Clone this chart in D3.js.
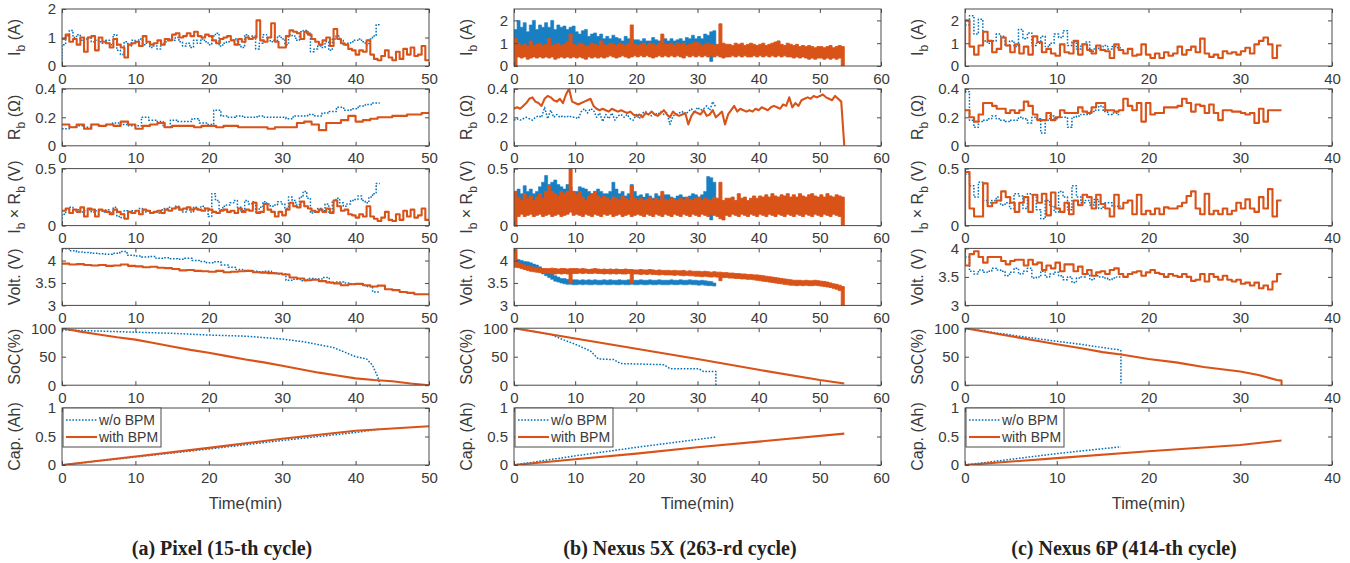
<!DOCTYPE html>
<html><head><meta charset="utf-8">
<script src="https://cdn.jsdelivr.net/npm/d3@7"></script>
<style>body{margin:0;background:#fff}</style>
</head><body>
<script>
// ===================== DATA =====================
const seriesNames = ["w/o BPM", "with BPM"];
const captions = ["(a) Pixel (15-th cycle)", "(b) Nexus 5X (263-rd cycle)", "(c) Nexus 6P (414-th cycle)"];
const xMax = [50, 60, 40];
const xTicks = [[0,10,20,30,40,50],[0,10,20,30,40,50,60],[0,10,20,30,40]];
const yDomains = [
  [[0,2],[0,0.4],[0,0.5],[3,4.27],[0,100],[0,1]],
  [[0,2.5],[0,0.4],[0,0.5],[3,4.27],[0,100],[0,1]],
  [[0,2.5],[0,0.4],[0,0.5],[3,4],[0,100],[0,1]]
];
const yTicks = [
  [[0,1,2],[0,0.2,0.4],[0,0.5],[3,3.5,4],[0,50,100],[0,0.5,1]],
  [[0,1,2],[0,0.2,0.4],[0,0.5],[3,3.5,4],[0,50,100],[0,0.5,1]],
  [[0,1,2],[0,0.2,0.4],[0,0.5],[3,3.5,4],[0,50,100],[0,0.5,1]]
];
const endWith = [50, 54, 34.5];
const endWithout = [43.3, 33, 17];

// ---- Pixel (column a), step values ----
const pixelIbWith = [
 0.95,1.1,0.85,0.95,0.75,1.0,0.5,1.0,1.05,0.55,
 1.0,0.85,0.8,0.65,0.95,0.75,0.65,0.3,0.75,0.8,
 0.85,0.7,1.05,0.85,0.75,0.8,0.9,0.75,0.95,0.9,
 1.1,1.15,1.0,1.05,1.15,1.05,1.2,1.05,1.0,1.1,
 1.05,0.9,0.8,0.95,1.0,1.05,0.9,0.75,0.95,0.85,
 1.0,0.95,1.0,1.6,0.9,0.85,1.0,1.5,0.85,0.65,
 0.65,1.05,1.25,1.2,1.15,0.95,1.2,1.1,0.95,0.85,
 0.75,0.9,1.0,0.7,1.3,0.95,0.8,0.75,0.6,0.55,
 0.4,0.55,0.5,0.9,0.4,0.25,0.2,0.35,0.55,0.3,
 0.2,0.5,0.25,0.6,0.4,0.65,0.35,0.4,0.7,0.2];
const pixelIbWithout = [
 0.75,1.05,1.25,1.0,1.1,0.9,0.95,1.0,0.85,0.9,
 0.85,0.8,0.9,0.75,1.1,0.55,0.4,0.85,0.7,0.9,
 0.85,0.95,0.75,0.8,0.65,0.7,0.6,0.8,0.85,0.95,
 0.9,1.0,0.85,0.7,0.8,0.65,0.9,0.8,0.95,0.85,
 0.75,1.05,1.15,0.7,0.8,0.85,0.9,0.95,0.75,0.65,
 1.1,0.95,1.05,0.6,0.8,1.1,1.0,0.85,0.9,1.05,
 0.95,0.75,1.1,1.05,0.9,1.2,1.25,1.15,0.5,0.6,
 0.7,0.65,0.85,0.55,0.95,1.05,0.9,0.75,0.8,0.85,
 0.9,0.95,0.85,0.75,0.95,1.05,1.45];
const pixelRbWith = [
 0.15,0.13,0.15,0.12,0.15,0.14,0.15,0.14,0.17,0.15,
 0.12,0.14,0.15,0.16,0.13,0.14,0.14,0.14,0.13,0.14,
 0.14,0.13,0.14,0.14,0.13,0.13,0.13,0.13,0.12,0.13,
 0.13,0.13,0.16,0.17,0.15,0.11,0.16,0.16,0.18,0.21,
 0.17,0.18,0.19,0.20,0.20,0.21,0.21,0.22,0.22,0.23];
const pixelRbWithout = [
 0.12,0.13,0.14,0.13,0.15,0.14,0.15,0.16,0.15,0.14,
 0.14,0.20,0.18,0.17,0.13,0.18,0.17,0.17,0.19,0.16,
 0.15,0.25,0.21,0.20,0.21,0.20,0.20,0.21,0.20,0.20,
 0.20,0.19,0.21,0.21,0.22,0.21,0.23,0.24,0.27,0.25,
 0.26,0.28,0.29,0.30];
const pixelIRWith = [
 0.13,0.15,0.11,0.14,0.12,0.16,0.08,0.15,0.14,0.08,
 0.14,0.13,0.12,0.10,0.14,0.12,0.10,0.06,0.12,0.11,
 0.13,0.10,0.14,0.13,0.11,0.12,0.13,0.11,0.14,0.13,
 0.15,0.16,0.14,0.15,0.16,0.14,0.15,0.14,0.13,0.15,
 0.14,0.12,0.11,0.13,0.14,0.12,0.13,0.11,0.15,0.12,
 0.14,0.13,0.20,0.11,0.12,0.19,0.14,0.12,0.08,0.12,
 0.09,0.14,0.20,0.17,0.16,0.21,0.17,0.15,0.13,0.12,
 0.14,0.12,0.15,0.11,0.22,0.17,0.13,0.14,0.10,0.09,
 0.07,0.10,0.08,0.17,0.08,0.06,0.04,0.07,0.12,0.05,
 0.04,0.10,0.05,0.13,0.08,0.14,0.07,0.09,0.15,0.05];
const pixelIRWithout = [
 0.10,0.14,0.16,0.13,0.14,0.12,0.13,0.14,0.12,0.13,
 0.13,0.12,0.14,0.11,0.16,0.08,0.07,0.13,0.11,0.13,
 0.13,0.15,0.12,0.13,0.11,0.12,0.11,0.14,0.15,0.16,
 0.15,0.17,0.14,0.12,0.14,0.12,0.16,0.14,0.17,0.15,
 0.08,0.28,0.22,0.14,0.17,0.18,0.20,0.22,0.16,0.13,
 0.22,0.19,0.21,0.12,0.16,0.21,0.19,0.17,0.18,0.21,
 0.19,0.15,0.25,0.22,0.18,0.25,0.30,0.24,0.11,0.12,
 0.15,0.13,0.19,0.12,0.22,0.24,0.20,0.17,0.19,0.22,
 0.23,0.26,0.22,0.20,0.25,0.28,0.37];
const pixelVoltWith = [
 3.93,3.91,3.92,3.90,3.89,3.90,3.88,3.89,3.91,3.88,
 3.87,3.85,3.86,3.84,3.83,3.81,3.78,3.79,3.77,3.76,
 3.75,3.77,3.74,3.75,3.76,3.77,3.74,3.73,3.72,3.71,
 3.69,3.62,3.60,3.56,3.57,3.54,3.51,3.49,3.45,3.47,
 3.48,3.45,3.42,3.44,3.36,3.34,3.30,3.28,3.25,3.25];
const pixelVoltWithout = [
 4.26,4.22,4.19,4.18,4.16,4.15,4.14,4.16,4.20,4.12,
 4.10,4.08,4.09,4.05,4.06,4.04,4.03,4.05,4.00,3.98,
 3.95,3.97,3.90,3.85,3.80,3.78,3.76,3.75,3.76,3.72,
 3.70,3.56,3.58,3.55,3.60,3.59,3.62,3.50,3.52,3.50,
 3.48,3.47,3.42,3.30];
const pixelSocWithT = [0,2.5,5,7.5,10,12.5,15,17.5,20,22.5,25,27.5,30,32.5,35,37.5,40,42.5,45,47.5,50];
const pixelSocWith  = [100,94,89,84,80,74,68,62,57,51,45,40,34,28,22,17,12,9,7,3,0];
const pixelSocWithoutT = [0,5,10,15,20,25,30,33,35,37,38.5,40,41.5,42.3,43,43.3,43.3];
const pixelSocWithout  = [97,95,93,91,88,86,81,76,71,66,58,50,46,35,15,2,0];
const pixelCapWithT = [0,10,20,30,40,50];
const pixelCapWith  = [0,0.15,0.3,0.46,0.6,0.68];
const pixelCapWithoutT = [0,10,20,30,40,43.3];
const pixelCapWithout  = [0,0.14,0.28,0.43,0.57,0.63];

// ---- Nexus 5X (column b): dense signals as per-0.5-min low/high envelopes ----
const n5xIbWithHigh = [
 1.2,1.0,0.9,0.95,0.85,1.1,0.9,0.95,1.0,0.9,
 0.95,1.2,0.9,0.95,1.0,0.9,0.95,1.05,1.4,0.95,
 0.9,1.0,0.95,0.85,0.9,1.0,0.95,0.9,1.1,0.95,
 0.9,1.0,0.95,0.9,1.0,0.95,0.9,1.0,1.8,0.95,
 0.9,0.95,1.0,0.9,1.0,0.95,0.9,1.0,1.4,0.95,
 0.95,1.0,0.9,1.0,0.95,1.0,0.9,0.95,1.0,1.05,
 1.0,0.9,0.95,1.0,0.95,0.9,0.95,1.85,1.0,0.95,
 0.95,0.9,1.0,0.95,1.0,0.9,0.95,1.0,0.95,0.9,
 0.95,1.0,0.9,0.95,1.0,1.05,1.1,0.95,0.9,1.0,
 0.95,0.9,0.95,0.85,0.9,0.85,0.9,0.85,0.8,0.85,
 0.85,0.8,0.85,0.9,0.8,0.85,0.9,0.85];
const n5xIbWithLow = [
 0.0,0.4,0.35,0.4,0.3,0.35,0.4,0.35,0.4,0.35,
 0.4,0.35,0.4,0.3,0.35,0.4,0.35,0.4,0.35,0.4,
 0.35,0.4,0.35,0.3,0.4,0.35,0.4,0.35,0.4,0.35,
 0.4,0.45,0.4,0.35,0.4,0.45,0.4,0.35,0.4,0.45,
 0.4,0.45,0.4,0.45,0.4,0.35,0.4,0.45,0.4,0.45,
 0.4,0.45,0.4,0.45,0.4,0.35,0.45,0.4,0.45,0.4,
 0.45,0.4,0.45,0.4,0.45,0.4,0.45,0.4,0.35,0.4,
 0.4,0.45,0.4,0.45,0.4,0.45,0.4,0.4,0.45,0.4,
 0.45,0.4,0.45,0.4,0.45,0.4,0.45,0.4,0.45,0.4,
 0.4,0.35,0.4,0.35,0.4,0.35,0.3,0.35,0.3,0.35,
 0.35,0.3,0.35,0.3,0.35,0.3,0.35,0.0];
const n5xIbWithoutHigh = [
 1.6,2.0,1.7,1.9,1.5,1.8,2.0,1.6,1.8,1.7,
 1.9,1.7,2.0,1.6,1.8,1.7,1.75,1.6,1.7,1.75,
 1.5,1.4,1.55,1.6,1.3,1.4,1.45,1.3,1.4,1.2,
 1.3,1.2,1.35,1.25,1.2,1.1,1.3,1.2,1.1,1.15,
 1.15,1.1,1.2,1.1,1.1,1.25,1.15,1.1,1.15,1.2,
 1.1,1.2,1.1,1.15,1.2,1.1,1.25,1.2,1.35,1.2,
 1.3,1.2,1.4,1.35,1.5,1.55];
const n5xIbWithoutLow = [
 0.9,0.7,0.6,0.65,0.6,0.6,0.65,0.6,0.6,0.65,
 0.6,0.6,0.65,0.6,0.6,0.6,0.65,0.6,0.6,0.6,
 0.6,0.65,0.6,0.6,0.6,0.65,0.6,0.6,0.6,0.6,
 0.65,0.6,0.6,0.6,0.65,0.6,0.6,0.6,0.6,0.65,
 0.6,0.6,0.6,0.65,0.6,0.6,0.6,0.6,0.65,0.6,
 0.6,0.6,0.65,0.6,0.6,0.6,0.6,0.65,0.6,0.6,
 0.6,0.6,0.6,0.6,0.2,0.6];
const n5xRbWith = [
 0.26,0.27,0.26,0.28,0.30,0.33,0.34,0.31,0.30,0.28,
 0.33,0.35,0.34,0.32,0.31,0.33,0.30,0.36,0.40,0.31,
 0.30,0.29,0.30,0.31,0.32,0.33,0.28,0.26,0.25,0.26,
 0.25,0.24,0.26,0.25,0.24,0.25,0.24,0.23,0.24,0.22,
 0.21,0.22,0.20,0.23,0.22,0.24,0.22,0.21,0.23,0.25,
 0.22,0.20,0.24,0.22,0.21,0.22,0.23,0.15,0.21,0.24,
 0.23,0.22,0.25,0.21,0.22,0.25,0.20,0.22,0.24,0.15,
 0.22,0.25,0.28,0.24,0.26,0.25,0.24,0.25,0.24,0.26,
 0.25,0.27,0.26,0.25,0.27,0.28,0.27,0.26,0.29,0.28,
 0.34,0.27,0.30,0.28,0.32,0.33,0.34,0.33,0.35,0.34,
 0.35,0.36,0.34,0.33,0.32,0.35,0.33,0.31,0.0];
const n5xRbWithout = [
 0.18,0.19,0.18,0.19,0.20,0.19,0.18,0.20,0.21,0.20,
 0.27,0.19,0.25,0.20,0.22,0.20,0.21,0.20,0.21,0.20,
 0.20,0.19,0.24,0.26,0.23,0.26,0.25,0.20,0.23,0.17,
 0.22,0.19,0.23,0.18,0.21,0.22,0.20,0.22,0.19,0.18,
 0.22,0.19,0.23,0.24,0.22,0.21,0.23,0.22,0.24,0.22,
 0.23,0.15,0.21,0.22,0.23,0.24,0.22,0.24,0.26,0.23,
 0.27,0.25,0.26,0.28,0.25,0.31,0.27];
const n5xIRWithHigh = [
 0.30,0.25,0.22,0.28,0.24,0.26,0.22,0.25,0.28,0.24,
 0.30,0.35,0.30,0.28,0.26,0.30,0.28,0.30,0.50,0.30,
 0.27,0.30,0.25,0.22,0.26,0.28,0.30,0.26,0.24,0.26,
 0.24,0.22,0.25,0.24,0.22,0.26,0.24,0.22,0.35,0.24,
 0.22,0.24,0.22,0.23,0.25,0.22,0.24,0.22,0.30,0.23,
 0.22,0.24,0.23,0.22,0.24,0.22,0.25,0.23,0.22,0.24,
 0.25,0.22,0.24,0.23,0.22,0.25,0.24,0.38,0.22,0.24,
 0.24,0.25,0.22,0.28,0.24,0.25,0.22,0.24,0.26,0.24,
 0.26,0.25,0.27,0.25,0.28,0.26,0.25,0.27,0.26,0.28,
 0.25,0.27,0.25,0.28,0.26,0.25,0.27,0.28,0.26,0.25,
 0.27,0.25,0.28,0.26,0.25,0.27,0.26,0.25];
const n5xIRWithLow = [
 0.0,0.08,0.10,0.08,0.09,0.10,0.08,0.09,0.10,0.08,
 0.09,0.10,0.08,0.09,0.10,0.08,0.09,0.10,0.12,0.09,
 0.10,0.09,0.08,0.10,0.09,0.08,0.10,0.09,0.08,0.10,
 0.09,0.10,0.08,0.09,0.10,0.08,0.09,0.10,0.08,0.09,
 0.10,0.09,0.08,0.10,0.09,0.08,0.10,0.09,0.08,0.10,
 0.09,0.08,0.10,0.09,0.08,0.10,0.09,0.08,0.10,0.09,
 0.08,0.10,0.09,0.08,0.10,0.09,0.08,0.06,0.05,0.09,
 0.08,0.10,0.09,0.08,0.10,0.09,0.08,0.10,0.09,0.08,
 0.10,0.09,0.08,0.10,0.09,0.08,0.10,0.09,0.08,0.10,
 0.09,0.08,0.10,0.09,0.08,0.10,0.09,0.08,0.10,0.09,
 0.08,0.10,0.09,0.08,0.10,0.09,0.08,0.0];
const n5xIRWithoutHigh = [
 0.30,0.32,0.28,0.35,0.30,0.32,0.28,0.30,0.34,0.38,
 0.44,0.36,0.38,0.40,0.36,0.34,0.32,0.36,0.34,0.30,
 0.30,0.34,0.33,0.32,0.30,0.28,0.30,0.32,0.30,0.28,
 0.28,0.30,0.38,0.32,0.28,0.30,0.26,0.28,0.36,0.30,
 0.26,0.27,0.25,0.28,0.26,0.24,0.28,0.26,0.24,0.27,
 0.27,0.25,0.24,0.26,0.27,0.25,0.24,0.26,0.28,0.27,
 0.25,0.27,0.30,0.43,0.42,0.38];
const n5xIRWithoutLow = [
 0.12,0.11,0.12,0.11,0.12,0.11,0.12,0.11,0.12,0.11,
 0.12,0.11,0.12,0.11,0.12,0.11,0.12,0.11,0.12,0.11,
 0.11,0.12,0.11,0.12,0.11,0.12,0.11,0.12,0.11,0.12,
 0.11,0.12,0.11,0.12,0.11,0.12,0.11,0.12,0.11,0.12,
 0.11,0.12,0.11,0.12,0.11,0.12,0.11,0.12,0.11,0.12,
 0.11,0.12,0.11,0.12,0.11,0.12,0.11,0.12,0.11,0.12,
 0.11,0.12,0.11,0.11,0.05,0.11];
const n5xVoltWithHigh = [
 4.30,3.95,3.92,3.90,3.88,3.86,3.85,3.84,3.83,3.82,
 3.82,3.82,3.83,3.82,3.81,3.82,3.82,3.81,3.82,3.82,
 3.82,3.81,3.82,3.81,3.80,3.81,3.82,3.81,3.80,3.81,
 3.80,3.81,3.80,3.81,3.80,3.80,3.81,3.80,3.80,3.79,
 3.79,3.80,3.79,3.79,3.80,3.79,3.78,3.79,3.78,3.78,
 3.78,3.77,3.78,3.77,3.77,3.78,3.76,3.77,3.76,3.76,
 3.76,3.75,3.76,3.75,3.74,3.75,3.74,3.74,3.73,3.73,
 3.72,3.72,3.71,3.71,3.70,3.70,3.69,3.69,3.68,3.68,
 3.67,3.66,3.65,3.64,3.63,3.62,3.61,3.60,3.59,3.58,
 3.57,3.56,3.56,3.56,3.55,3.56,3.55,3.55,3.56,3.55,
 3.54,3.53,3.52,3.50,3.48,3.47,3.45,3.42];
const n5xVoltWithLow = [
 3.85,3.84,3.82,3.80,3.78,3.76,3.75,3.74,3.73,3.72,
 3.72,3.71,3.70,3.70,3.71,3.70,3.71,3.70,3.50,3.71,
 3.71,3.72,3.71,3.72,3.71,3.71,3.72,3.71,3.71,3.70,
 3.71,3.70,3.71,3.70,3.71,3.70,3.70,3.71,3.50,3.70,
 3.70,3.69,3.70,3.69,3.70,3.69,3.69,3.68,3.69,3.68,
 3.68,3.68,3.67,3.68,3.67,3.66,3.67,3.66,3.66,3.65,
 3.65,3.64,3.65,3.64,3.63,3.64,3.63,3.55,3.62,3.62,
 3.61,3.61,3.60,3.60,3.59,3.59,3.58,3.58,3.57,3.56,
 3.55,3.54,3.53,3.52,3.51,3.50,3.49,3.48,3.47,3.46,
 3.45,3.45,3.44,3.45,3.44,3.45,3.44,3.44,3.45,3.44,
 3.43,3.42,3.41,3.40,3.38,3.36,3.33,3.0];
const n5xVoltWithoutHigh = [
 4.05,4.02,4.00,3.98,3.97,3.95,3.92,3.90,3.86,3.82,
 3.80,3.75,3.70,3.66,3.63,3.60,3.60,3.58,3.58,3.57,
 3.57,3.56,3.57,3.56,3.57,3.56,3.57,3.56,3.56,3.57,
 3.56,3.57,3.56,3.56,3.57,3.56,3.56,3.57,3.56,3.56,
 3.56,3.57,3.56,3.56,3.57,3.56,3.56,3.57,3.56,3.56,
 3.56,3.57,3.56,3.56,3.57,3.56,3.56,3.57,3.56,3.56,
 3.55,3.56,3.55,3.54,3.53,3.50];
const n5xVoltWithoutLow = [
 3.90,3.88,3.87,3.85,3.84,3.82,3.80,3.78,3.75,3.70,
 3.66,3.62,3.58,3.54,3.52,3.50,3.48,3.47,3.47,3.46,
 3.46,3.47,3.46,3.47,3.46,3.46,3.47,3.46,3.46,3.47,
 3.46,3.46,3.47,3.46,3.46,3.47,3.46,3.46,3.47,3.46,
 3.46,3.47,3.46,3.46,3.47,3.46,3.46,3.47,3.46,3.46,
 3.46,3.47,3.46,3.46,3.47,3.46,3.46,3.47,3.46,3.46,
 3.45,3.46,3.45,3.44,3.44,3.43];
const n5xSocWithT = [0,10,20,30,40,50,54];
const n5xSocWith  = [100,82,64,46,27,9,3];
const n5xSocWithoutT = [0,3,6,8,10,12.5,13.8,16.3,17.4,24.5,25.5,30.2,31,33,33];
const n5xSocWithout  = [100,95,89,80,72,60,46,45,38,36,29,29,24,24,0];
const n5xCapWithT = [0,10,20,30,40,54];
const n5xCapWith  = [0,0.1,0.2,0.31,0.41,0.55];
const n5xCapWithoutT = [0,10,20,33];
const n5xCapWithout  = [0,0.16,0.31,0.49];

// ---- Nexus 6P (column c), step values ----
const n6pIbWith = [
 2.0,0.85,0.5,0.9,1.5,1.1,0.6,0.75,1.25,0.9,
 0.6,0.95,0.55,0.85,0.5,1.3,1.05,0.6,0.75,0.55,
 0.45,0.95,0.6,0.55,1.1,0.5,0.95,0.7,0.55,0.9,
 0.7,0.65,0.35,0.95,0.7,0.55,0.75,0.45,0.5,0.95,
 0.5,0.35,0.55,0.35,0.6,0.45,0.55,0.85,0.5,0.7,
 0.85,0.6,1.2,0.55,0.4,0.5,0.35,0.65,0.55,0.6,
 0.5,0.65,0.8,0.55,0.95,1.1,1.25,0.95,0.35,0.9];
const n6pIbWithout = [
 1.8,2.2,1.4,2.05,1.1,1.0,1.1,1.4,1.3,0.9,
 1.1,0.85,1.6,1.2,1.45,0.9,1.0,1.3,0.85,1.0,
 1.4,1.25,1.55,0.9,1.05,0.75,0.95,1.05,0.65,0.8,
 0.7,0.9,0.75,0.85,0.8];
const n6pRbWith = [
 0.25,0.20,0.17,0.22,0.30,0.30,0.28,0.26,0.26,0.23,
 0.25,0.23,0.25,0.31,0.28,0.22,0.18,0.18,0.23,0.18,
 0.20,0.25,0.23,0.23,0.23,0.27,0.24,0.23,0.27,0.30,
 0.30,0.25,0.25,0.24,0.25,0.33,0.28,0.25,0.30,0.17,
 0.30,0.22,0.23,0.23,0.27,0.27,0.27,0.28,0.33,0.30,
 0.24,0.29,0.28,0.23,0.29,0.23,0.18,0.25,0.25,0.24,
 0.24,0.23,0.22,0.23,0.16,0.26,0.17,0.25,0.25,0.25];
const n6pRbWithout = [
 0.38,0.18,0.13,0.17,0.18,0.19,0.21,0.19,0.18,0.17,
 0.18,0.18,0.20,0.19,0.16,0.20,0.19,0.09,0.18,0.21,
 0.19,0.20,0.20,0.13,0.20,0.21,0.22,0.22,0.24,0.25,
 0.28,0.24,0.22,0.23,0.22];
const n6pIRWith = [
 0.47,0.15,0.08,0.08,0.37,0.17,0.20,0.22,0.30,0.25,
 0.20,0.12,0.20,0.25,0.12,0.27,0.20,0.28,0.09,0.29,
 0.15,0.12,0.20,0.10,0.22,0.18,0.27,0.25,0.15,0.27,
 0.19,0.15,0.08,0.27,0.15,0.20,0.22,0.10,0.27,0.10,
 0.13,0.10,0.15,0.10,0.16,0.15,0.15,0.17,0.20,0.26,
 0.30,0.15,0.10,0.28,0.10,0.13,0.10,0.15,0.10,0.13,
 0.20,0.15,0.23,0.15,0.12,0.25,0.15,0.32,0.08,0.22];
const n6pIRWithout = [
 0.45,0.35,0.25,0.38,0.22,0.20,0.22,0.25,0.18,0.20,
 0.15,0.28,0.26,0.15,0.28,0.27,0.14,0.06,0.22,0.17,
 0.12,0.30,0.25,0.14,0.35,0.25,0.20,0.22,0.18,0.23,
 0.15,0.20,0.20,0.17,0.17];
const n6pVoltWith = [
 3.70,3.90,3.95,3.85,3.75,3.85,3.85,3.85,3.78,3.72,
 3.78,3.80,3.80,3.70,3.80,3.72,3.75,3.62,3.70,3.65,
 3.75,3.60,3.72,3.72,3.60,3.68,3.55,3.62,3.52,3.58,
 3.60,3.55,3.62,3.65,3.55,3.50,3.55,3.58,3.60,3.52,
 3.58,3.62,3.57,3.55,3.50,3.55,3.52,3.50,3.55,3.50,
 3.43,3.45,3.55,3.42,3.55,3.50,3.45,3.52,3.45,3.42,
 3.45,3.38,3.40,3.35,3.40,3.30,3.35,3.28,3.42,3.55];
const n6pVoltWithout = [
 3.85,3.60,3.55,3.62,3.58,3.60,3.65,3.62,3.60,3.52,
 3.58,3.65,3.55,3.60,3.65,3.48,3.50,3.60,3.50,3.55,
 3.58,3.52,3.45,3.50,3.40,3.48,3.50,3.55,3.45,3.52,
 3.50,3.48,3.45,3.48,3.50];
const n6pSocWithT = [0,5,10,13,15,17,20,23,26,30,32,34,34.5,34.5];
const n6pSocWith  = [100,86,72,64,58,54,46,40,32,24,18,9,8,0];
const n6pSocWithoutT = [0,5,10,13,15,16.8,17,17];
const n6pSocWithout  = [100,88,77,71,66,62,60,0];
const n6pCapWithT = [0,10,20,30,34.5];
const n6pCapWith  = [0,0.12,0.24,0.35,0.43];
const n6pCapWithoutT = [0,5,10,17];
const n6pCapWithout  = [0,0.1,0.2,0.32];

// ===================== PANEL TABLE =====================
// each cell: [without, with]; kind: step (uniform steps), line (uniform samples),
// band (dense signal drawn from per-bin low/high), xy (explicit times)
const panels = [
  [ // Pixel
    [{kind:'step',v:pixelIbWithout,start:0},{kind:'step',v:pixelIbWith}],
    [{kind:'step',v:pixelRbWithout},{kind:'step',v:pixelRbWith}],
    [{kind:'step',v:pixelIRWithout,start:0},{kind:'step',v:pixelIRWith}],
    [{kind:'step',v:pixelVoltWithout},{kind:'step',v:pixelVoltWith}],
    [{kind:'xy',t:pixelSocWithoutT,v:pixelSocWithout},{kind:'xy',t:pixelSocWithT,v:pixelSocWith}],
    [{kind:'xy',t:pixelCapWithoutT,v:pixelCapWithout},{kind:'xy',t:pixelCapWithT,v:pixelCapWith}]
  ],
  [ // Nexus 5X
    [{kind:'band',lo:n5xIbWithoutLow,hi:n5xIbWithoutHigh},{kind:'band',lo:n5xIbWithLow,hi:n5xIbWithHigh}],
    [{kind:'line',v:n5xRbWithout},{kind:'line',v:n5xRbWith}],
    [{kind:'band',lo:n5xIRWithoutLow,hi:n5xIRWithoutHigh},{kind:'band',lo:n5xIRWithLow,hi:n5xIRWithHigh}],
    [{kind:'band',lo:n5xVoltWithoutLow,hi:n5xVoltWithoutHigh},{kind:'band',lo:n5xVoltWithLow,hi:n5xVoltWithHigh}],
    [{kind:'xy',t:n5xSocWithoutT,v:n5xSocWithout},{kind:'xy',t:n5xSocWithT,v:n5xSocWith}],
    [{kind:'xy',t:n5xCapWithoutT,v:n5xCapWithout},{kind:'xy',t:n5xCapWithT,v:n5xCapWith}]
  ],
  [ // Nexus 6P
    [{kind:'step',v:n6pIbWithout},{kind:'step',v:n6pIbWith,start:0}],
    [{kind:'step',v:n6pRbWithout},{kind:'step',v:n6pRbWith}],
    [{kind:'step',v:n6pIRWithout},{kind:'step',v:n6pIRWith,start:0}],
    [{kind:'step',v:n6pVoltWithout},{kind:'step',v:n6pVoltWith,start:4.0}],
    [{kind:'xy',t:n6pSocWithoutT,v:n6pSocWithout},{kind:'xy',t:n6pSocWithT,v:n6pSocWith}],
    [{kind:'xy',t:n6pCapWithoutT,v:n6pCapWithout},{kind:'xy',t:n6pCapWithT,v:n6pCapWith}]
  ]
];

// ===================== DRAWING =====================
const W = 1350, H = 563;
const colLeft = [62, 514, 965];
const plotW = 367, plotH = 57;
const rowTop = [9, 88.8, 168.6, 248.4, 328.2, 408];
const colBlue = '#0072BD', colOrange = '#D95319';
const axisColor = '#4a4a4a', textColor = '#3a3a3a';
const sans = '"Liberation Sans", Arial, sans-serif';

const svg = d3.select('body').append('svg').attr('width', W).attr('height', H)
  .style('font-family', sans);

const labelParts = [
  [['I',0],['b',1],[' (A)',0]],
  [['R',0],['b',1],[' (Ω)',0]],
  [['I',0],['b',1],[' × R',0],['b',1],[' (V)',0]],
  [['Volt. (V)',0]],
  [['SoC(%)',0]],
  [['Cap. (Ah)',0]]
];

function buildPoints(s, end) {
  let pts = [];
  if (s.kind === 'xy') {
    pts = s.t.map((t, i) => [t, s.v[i]]);
  } else if (s.kind === 'step') {
    const n = s.v.length, dt = end / n;
    pts = s.v.map((v, i) => [i * dt, v]);
    pts.push([end, s.v[n - 1]]);
  } else if (s.kind === 'band') {
    const n = s.hi.length, dt = end / n;
    pts = s.hi.map((h, i) => [i * dt, s.lo[i], h]);
    pts.push([end, s.lo[n - 1], s.hi[n - 1]]);
  } else {
    const n = s.v.length, dt = end / (n - 1);
    pts = s.v.map((v, i) => [i * dt, v]);
  }
  if (s.start !== undefined) pts.unshift([0, s.start]);
  return pts;
}

const defs = svg.append('defs');

for (let c = 0; c < 3; c++) {
  const x0 = colLeft[c];
  const x = d3.scaleLinear().domain([0, xMax[c]]).range([x0, x0 + plotW]);
  for (let r = 0; r < 6; r++) {
    const y0 = rowTop[r];
    const y = d3.scaleLinear().domain(yDomains[c][r]).range([y0 + plotH, y0]);
    const g = svg.append('g');
    const clipId = `clip-${c}-${r}`;
    defs.append('clipPath').attr('id', clipId).append('rect')
      .attr('x', x0).attr('y', y0).attr('width', plotW).attr('height', plotH);

    const cell = panels[c][r];
    const ends = [endWithout[c], endWith[c]];
    cell.forEach((s, k) => {
      const color = k === 0 ? colBlue : colOrange;
      const pts = buildPoints(s, ends[k]);
      if (s.kind === 'band') {
        const area = d3.area().curve(d3.curveStepAfter)
          .x(d => x(d[0])).y0(d => y(d[1])).y1(d => y(d[2]));
        g.append('path').attr('clip-path', `url(#${clipId})`)
          .attr('d', area(pts)).attr('fill', color)
          .attr('stroke', color).attr('stroke-width', k === 0 ? 0.6 : 0.9)
          .attr('stroke-linejoin', 'miter')
          .attr('opacity', k === 0 ? 0.9 : 1);
        return;
      }
      const gen = d3.line().x(d => x(d[0])).y(d => y(d[1]));
      if (s.kind === 'step') gen.curve(d3.curveStepAfter);
      const path = g.append('path').attr('clip-path', `url(#${clipId})`)
        .attr('d', gen(pts)).attr('fill', 'none')
        .attr('stroke-linejoin', 'round');
      if (k === 0) {
        path.attr('stroke', colBlue).attr('stroke-width', 1.5).attr('stroke-dasharray', '1.6,1.6');
      } else {
        path.attr('stroke', colOrange).attr('stroke-width', 2.1);
      }
    });

    // axes (ticks inward on all sides)
    const tl = 4;
    const axB = d3.axisBottom(x).tickValues(xTicks[c]).tickSizeInner(-tl).tickSizeOuter(0).tickPadding(7).tickFormat(d3.format('d'));
    const axT = d3.axisTop(x).tickValues(xTicks[c]).tickSizeInner(-tl).tickSizeOuter(0).tickFormat('');
    const fmt = v => (Math.round(v * 100) / 100).toString();
    const axL = d3.axisLeft(y).tickValues(yTicks[c][r]).tickSizeInner(-tl).tickSizeOuter(0).tickPadding(6).tickFormat(fmt);
    const axR = d3.axisRight(y).tickValues(yTicks[c][r]).tickSizeInner(-tl).tickSizeOuter(0).tickFormat('');
    const styleAxis = sel => {
      sel.select('.domain').remove();
      sel.selectAll('line').attr('stroke', axisColor).attr('stroke-width', 1);
      sel.selectAll('text').attr('fill', textColor).style('font-size', '15px').style('font-family', sans);
    };
    g.append('g').attr('transform', `translate(0,${y0 + plotH})`).call(axB).call(styleAxis);
    g.append('g').attr('transform', `translate(0,${y0})`).call(axT).call(styleAxis);
    g.append('g').attr('transform', `translate(${x0},0)`).call(axL).call(styleAxis);
    g.append('g').attr('transform', `translate(${x0 + plotW},0)`).call(axR).call(styleAxis);

    g.append('rect').attr('x', x0).attr('y', y0).attr('width', plotW).attr('height', plotH)
      .attr('fill', 'none').attr('stroke', axisColor).attr('stroke-width', 1);

    // y label
    const lt = g.append('text')
      .attr('transform', `translate(${x0 - 42},${y0 + plotH / 2}) rotate(-90)`)
      .attr('text-anchor', 'middle').attr('fill', textColor)
      .style('font-size', '16px');
    labelParts[r].forEach(([txt, sub], i) => {
      const ts = lt.append('tspan').text(txt);
      if (sub) ts.style('font-size', '12px').attr('dy', 5);
      else if (i > 0 && labelParts[r][i - 1][1]) ts.attr('dy', -5);
    });

    // legend in the capacity panel
    if (r === 5) {
      const lg = g.append('g');
      lg.append('rect').attr('x', x0 + 1).attr('y', y0).attr('width', 98).attr('height', 39)
        .attr('fill', '#fff').attr('stroke', axisColor).attr('stroke-width', 1);
      seriesNames.forEach((name, k) => {
        const ly = y0 + 12 + k * 17;
        const ln = lg.append('line').attr('x1', x0 + 4).attr('x2', x0 + 35)
          .attr('y1', ly).attr('y2', ly);
        if (k === 0) ln.attr('stroke', colBlue).attr('stroke-width', 1.5).attr('stroke-dasharray', '1.6,1.6');
        else ln.attr('stroke', colOrange).attr('stroke-width', 2.1);
        lg.append('text').attr('x', x0 + 37).attr('y', ly).attr('dy', '0.35em')
          .attr('fill', textColor).style('font-size', '14px').text(name);
      });
    }
  }
  // x label
  svg.append('text').attr('x', x0 + plotW / 2).attr('y', 503).attr('dy', '0.35em')
    .attr('text-anchor', 'middle').attr('fill', textColor).style('font-size', '16.5px')
    .text('Time(min)');
  // caption
  svg.append('text').attr('x', [222, 680, 1124][c]).attr('y', 548).attr('dy', '0.35em')
    .attr('text-anchor', 'middle').attr('fill', '#222')
    .style('font-family', '"Liberation Serif", "DejaVu Serif", serif')
    .style('font-weight', 'bold').style('font-size', '20px')
    .text(captions[c]);
}
</script>
</body></html>
